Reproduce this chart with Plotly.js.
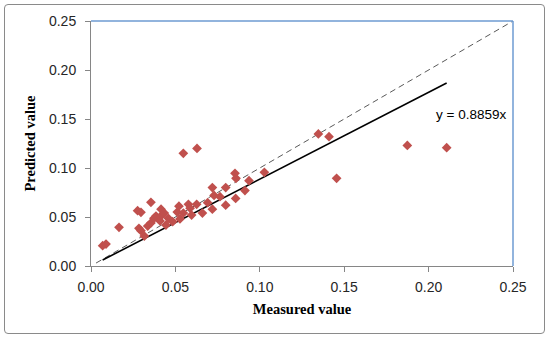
<!DOCTYPE html>
<html>
<head>
<meta charset="utf-8">
<script src="https://cdn.plot.ly/plotly-3.0.1.min.js"></script>
<style>
  html, body { margin:0; padding:0; background:#fff; }
  #wrap { position:relative; width:550px; height:339px; }
  #chart { width:550px; height:339px; }
  #frame { position:absolute; left:4px; top:4px; width:539px; height:328px;
           border:1.5px solid #8a8a8a; border-radius:4px; pointer-events:none; }
</style>
</head>
<body>
<div id="wrap"><div id="chart"></div><div id="frame"></div></div>
<script>
// Measured vs predicted values
const measured = [0.0069, 0.0089, 0.0166, 0.0276, 0.0296, 0.0284, 0.0296, 0.0316, 0.0336,
  0.0355, 0.0355, 0.0373, 0.0385, 0.0409, 0.0415, 0.0420, 0.0434, 0.0444, 0.0458, 0.0484,
  0.0511, 0.0521, 0.0527, 0.0547, 0.0547, 0.0577, 0.0587, 0.0596, 0.0626, 0.0628, 0.0660,
  0.0691, 0.0719, 0.0719, 0.0729, 0.0764, 0.0798, 0.0798, 0.0853, 0.0859, 0.0857, 0.0912,
  0.0936, 0.1027, 0.1347, 0.1410, 0.1455, 0.1874, 0.2107];
const predicted = [0.0207, 0.0224, 0.0395, 0.0564, 0.0548, 0.0385, 0.0360, 0.0306, 0.0408,
  0.0650, 0.0440, 0.0487, 0.0510, 0.0460, 0.0580, 0.0520, 0.0540, 0.0418, 0.0487, 0.0452,
  0.0550, 0.0610, 0.0480, 0.1150, 0.0540, 0.0630, 0.0590, 0.0520, 0.0630, 0.1200, 0.0540,
  0.0646, 0.0800, 0.0580, 0.0720, 0.0707, 0.0800, 0.0620, 0.0946, 0.0895, 0.0690, 0.0770,
  0.0870, 0.0956, 0.1347, 0.1320, 0.0895, 0.1230, 0.1207];
const slope = 0.8859;
const trendX = [Math.min(...measured), Math.max(...measured)];
const trendY = trendX.map(v => slope * v);
const identityX = [0.003, 0.25];
const identityY = [0.003, 0.25];
const tickVals = [0, 0.05, 0.10, 0.15, 0.20, 0.25];
const equationText = "y = 0.8859x";

const traces = [
  { x: identityX, y: identityY, mode: 'lines', type: 'scatter',
    line: { color: '#595959', width: 1, dash: '6px,4px' }, hoverinfo: 'skip' },
  { x: trendX, y: trendY, mode: 'lines', type: 'scatter',
    line: { color: '#000000', width: 1.6 }, hoverinfo: 'skip' },
  { x: measured, y: predicted, mode: 'markers', type: 'scatter',
    marker: { symbol: 'diamond', size: 7.5, color: '#C0504D', line: { width: 0 } } }
];

const axisCommon = {
  range: [0, 0.25], tickvals: tickVals, tickformat: '.2f',
  showgrid: false, zeroline: false, showline: true, linecolor: '#868686', linewidth: 1,
  ticks: 'outside', ticklen: 5, tickcolor: '#868686',
  tickfont: { family: 'Liberation Sans, Arial, sans-serif', size: 14, color: '#262626' }
};

const layout = {
  width: 550, height: 339,
  margin: { l: 91, r: 37, t: 21, b: 73 },
  paper_bgcolor: '#ffffff', plot_bgcolor: '#ffffff',
  showlegend: false,
  xaxis: Object.assign({}, axisCommon, {
    ticklabelstandoff: 3,
    title: { text: 'Measured value', standoff: 10,
      font: { family: 'Liberation Serif, Times New Roman, serif', size: 14.5, color: '#000', weight: 'bold' } }
  }),
  yaxis: Object.assign({}, axisCommon, {
    ticklabelstandoff: 6,
    title: { text: 'Predicted value', standoff: 9,
      font: { family: 'Liberation Serif, Times New Roman, serif', size: 14.5, color: '#000', weight: 'bold' } }
  }),
  shapes: [
    { type: 'line', xref: 'paper', yref: 'paper', x0: 0, x1: 1, y0: 1, y1: 1,
      line: { color: '#6E9BD2', width: 1.5 } },
    { type: 'line', xref: 'paper', yref: 'paper', x0: 1, x1: 1, y0: 0, y1: 1,
      line: { color: '#6E9BD2', width: 1.5 } }
  ],
  annotations: [
    { x: 0.225, y: 0.155, xref: 'x', yref: 'y', text: equationText, showarrow: false,
      font: { family: 'Liberation Sans, Arial, sans-serif', size: 13.5, color: '#000' } }
  ]
};

Plotly.newPlot('chart', traces, layout, { displayModeBar: false, staticPlot: true });
</script>
</body>
</html>
